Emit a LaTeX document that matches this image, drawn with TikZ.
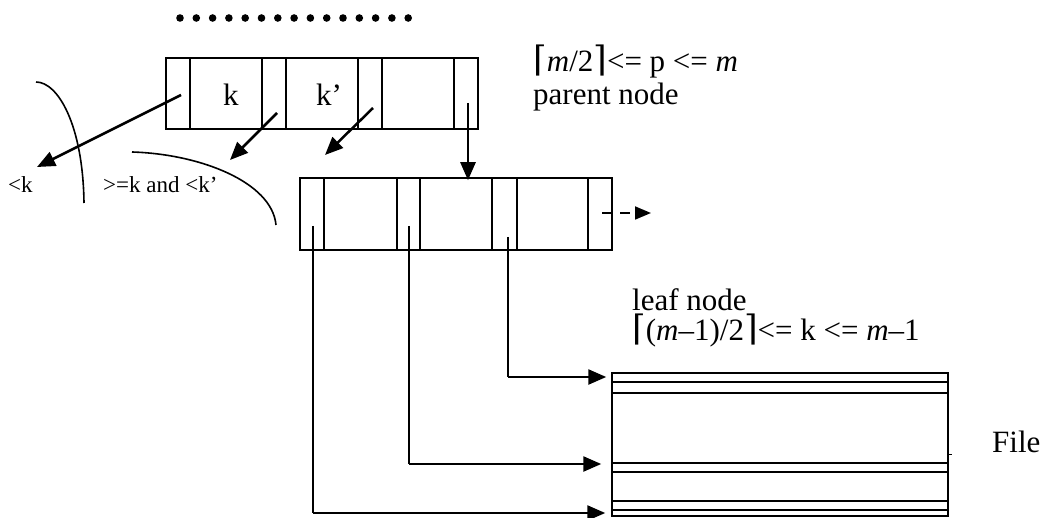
\documentclass[tikz,border=0pt]{standalone}
\usepackage{fontspec}
\setmainfont{Liberation Serif}
\newfontfamily\symfont{DejaVu Serif}
\usetikzlibrary{arrows.meta}
\begin{document}
\begin{tikzpicture}[x=1pt,y=-1pt,
  cell/.style={draw, line width=1.5pt, inner sep=0pt, minimum height=71pt},
  ptr/.style={line width=2.5pt, -{Triangle[length=18pt,width=15pt]}},
  wire/.style={line width=1.8pt},
  big/.style={inner sep=0pt, anchor=west, font=\fontsize{31}{32}\selectfont},
  lbl/.style={inner sep=0pt, anchor=north west, align=left, font=\fontsize{31}{32}\selectfont},
  small/.style={inner sep=0pt, anchor=west, font=\fontsize{23}{26}\selectfont},
  curve/.style={line width=1.6pt}]
\useasboundingbox (0,0) rectangle (1043,518);
% dots
\foreach \i in {0,...,14} \fill (180+\i*16.3,18) circle (3.8pt);
% parent node cells
\node[cell, minimum width=24pt] (p1) at (178,93.5) {};
\node[cell, minimum width=72pt] (p2) at (226,93.5) {};
\node[cell, minimum width=24pt] (p3) at (274,93.5) {};
\node[cell, minimum width=72pt] (p4) at (322,93.5) {};
\node[cell, minimum width=24pt] (p5) at (370,93.5) {};
\node[cell, minimum width=72pt] (p6) at (418,93.5) {};
\node[cell, minimum width=24pt] (p7) at (466,93.5) {};
\node[big] (kk) at (223,95) {k};
\node[big] (kp) at (316,95) {k’};
% leaf node cells
\node[cell, minimum width=24pt, minimum height=72pt] (l1) at (312,214) {};
\node[cell, minimum width=73pt, minimum height=72pt] (l2) at (360.5,214) {};
\node[cell, minimum width=23pt, minimum height=72pt] (l3) at (408.5,214) {};
\node[cell, minimum width=72pt, minimum height=72pt] (l4) at (456,214) {};
\node[cell, minimum width=25pt, minimum height=72pt] (l5) at (504.5,214) {};
\node[cell, minimum width=71pt, minimum height=72pt] (l6) at (552.5,214) {};
\node[cell, minimum width=24pt, minimum height=72pt] (l7) at (600,214) {};
% file
\node[draw, line width=1.5pt, inner sep=0pt, minimum width=336pt, minimum height=143pt] (file) at (780,444.5) {};
\foreach \yy in {382,393,463,472,501,510}
  \draw[line width=1.4pt] (file.west |- 0,\yy) -- (file.east |- 0,\yy);
\draw[line width=1pt] (file.east |- 0,454) -- ++(3,0);
\node[big] (filelabel) at (992,442) {File};
% labels
\node[small] (lk) at (8,185) {<k};
\node[small] (gk) at (103,185) {>=k and <k’};
\node[lbl] (plabel) at (533,45) {{\symfont\fontsize{35}{32}\selectfont ⌈}\textit{m}/2{\symfont\fontsize{35}{32}\selectfont ⌉}<= p <= \textit{m}\\[1pt]parent node};
\node[lbl] (llabel) at (632,288) {leaf node\\[-2pt]{\symfont\fontsize{35}{32}\selectfont ⌈}(\textit{m}–1)/2{\symfont\fontsize{35}{32}\selectfont ⌉}<= k <= \textit{m}–1};
% curves
\draw[curve] (36,82) .. controls (58,82) and (83,125) .. (84,203);
\draw[curve] (132,152) .. controls (200,154) and (272,182) .. (276,225);
% parent pointers
\coordinate (s1) at (181,95);
\coordinate (t1) at (37,167);
\coordinate (s3) at (277,113);
\coordinate (t3) at (230,160);
\coordinate (s5) at (373,108);
\coordinate (t5) at (325,155);
\coordinate (s7) at (468,103);
\draw[ptr] (s1) -- (t1);
\draw[ptr] (s3) -- (t3);
\draw[ptr] (s5) -- (t5);
\draw[ptr] (s7) -- ([yshift=-3pt]s7 |- l4.north);
% next leaf dashed
\coordinate (d1) at (602,213);
\coordinate (d2) at (651,213);
\draw[line width=1.8pt, dash pattern=on 10pt off 8pt, -{Triangle[length=16pt,width=13pt]}] (d1) -- (d2);
% leaf pointers to file
\coordinate (a1) at (313,226);
\coordinate (a3) at (409,226);
\coordinate (a5) at (508,237);
\draw[wire] (a1) -- (313,513) coordinate (b1);
\draw[ptr] (b1) -- ([xshift=-6pt]file.west |- b1);
\draw[wire] (a3) -- (409,464) coordinate (b3);
\draw[ptr] (b3) -- ([xshift=-10pt]file.west |- b3);
\draw[wire] (a5) -- (508,377) coordinate (b5);
\draw[ptr] (b5) -- ([xshift=-5pt]file.west |- b5);
\end{tikzpicture}
\end{document}
